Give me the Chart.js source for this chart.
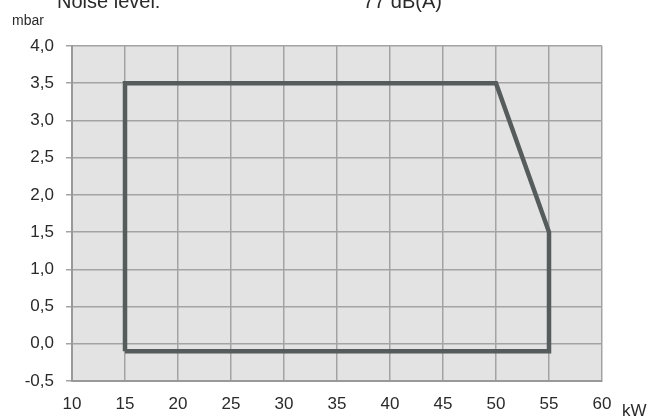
<!DOCTYPE html>
<html>
<head>
<meta charset="utf-8">
<script src="https://cdn.jsdelivr.net/npm/chart.js@4/dist/chart.umd.min.js"></script>
<style>
  html, body { margin: 0; padding: 0; background: #fff; }
  #wrap { width: 657px; height: 418px; position: relative; }
</style>
</head>
<body>
<div id="wrap"><canvas id="campoTrabajo"></canvas></div>
<script>
// Campo de trabajo: potencia (kW) vs presión en cámara (mbar)
const potenciaKw = [15, 15, 50, 55, 55, 15];
const presionMbar = [-0.1, 3.5, 3.5, 1.5, -0.1, -0.1];
const xMin = 10, xMax = 60, xPaso = 5;
const yMin = -0.5, yMax = 4.0, yPaso = 0.5;
const textoRuido = 'Noise level:';
const valorRuido = '77 dB(A)';
const unidadY = 'mbar';
const unidadX = 'kW';

const FUENTE = '"Liberation Sans", Arial, sans-serif';

// Fondo gris del área de trazado y textos sueltos
const extras = {
    id: 'extras',
    beforeDraw(chart) {
        const { ctx, chartArea: a } = chart;
        ctx.save();
        ctx.fillStyle = '#e3e3e3';
        ctx.fillRect(a.left, a.top, a.right - a.left, a.bottom - a.top);
        ctx.restore();
    },
    afterDraw(chart) {
        const ctx = chart.ctx;
        ctx.save();
        ctx.fillStyle = '#2a2a2a';
        ctx.textBaseline = 'alphabetic';
        ctx.font = '20px ' + FUENTE;
        ctx.fillText(textoRuido, 57, 8);
        ctx.fillText(valorRuido, 363, 8);
        ctx.font = '14px ' + FUENTE;
        ctx.fillText(unidadY, 12, 25);
        ctx.font = '17px ' + FUENTE;
        ctx.fillText(unidadX, 622, 416);
        ctx.restore();
    }
};

const coma = v => v.toFixed(1).replace('.', ',');

new Chart(document.getElementById('campoTrabajo'), {
    type: 'scatter',
    data: {
        datasets: [{
            data: potenciaKw.map((x, i) => ({ x: x, y: presionMbar[i] })),
            showLine: true,
            borderColor: '#565b5b',
            borderWidth: 4.5,
            borderJoinStyle: 'miter',
            pointRadius: 0,
            tension: 0
        }]
    },
    options: {
        responsive: true,
        maintainAspectRatio: false,
        animation: false,
        layout: { padding: { top: 46, right: 55, left: 0, bottom: 0 } },
        plugins: { legend: { display: false }, tooltip: { enabled: false } },
        scales: {
            x: {
                type: 'linear',
                min: xMin, max: xMax,
                afterFit: s => { s.height = 37; },
                ticks: { stepSize: xPaso, color: '#2a2a2a', padding: 13, font: { family: FUENTE, size: 17 } },
                grid: { color: '#a3a3a3', lineWidth: 1.5, drawTicks: false },
                border: { color: '#999', width: 2 }
            },
            y: {
                min: yMin, max: yMax,
                afterFit: s => { s.width = 72; },
                ticks: { stepSize: yPaso, color: '#2a2a2a', padding: 12, font: { family: FUENTE, size: 17 }, callback: v => coma(v) },
                grid: { color: '#a3a3a3', lineWidth: 1.5, tickLength: 6 },
                border: { color: '#999', width: 2 }
            }
        }
    },
    plugins: [extras]
});
</script>
</body>
</html>
